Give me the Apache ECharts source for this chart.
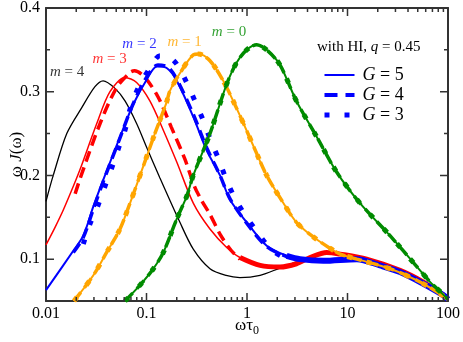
<!DOCTYPE html>
<html>
<head>
<meta charset="utf-8">
<script src="https://cdn.jsdelivr.net/npm/echarts@6/dist/echarts.min.js"></script>
<style>
  html, body { margin: 0; padding: 0; background: #fff; }
  #chart { width: 463px; height: 342px; }
</style>
</head>
<body>
<div id="chart"></div>
<script>
const serif = '"Liberation Serif", "DejaVu Serif", serif'
const frame = '#333333'

// axis ticks
const majorX = [0.01, 0.1, 1, 10, 100]
const minorX = [0.02, 0.03, 0.04, 0.05, 0.06, 0.07, 0.08, 0.09,
  0.2, 0.3, 0.4, 0.5, 0.6, 0.7, 0.8, 0.9,
  2, 3, 4, 5, 6, 7, 8, 9,
  20, 30, 40, 50, 60, 70, 80, 90]
const majorY = [0.1, 0.2, 0.3, 0.4]
const minorY = [0.15, 0.25, 0.35]

// m = 4 (G = 5 only)
const m4G5 = [[0.01, 0.169], [0.0118, 0.2], [0.0161, 0.25], [0.0227, 0.281], [0.0307, 0.306], [0.037, 0.313],
  [0.0486, 0.304], [0.0611, 0.289], [0.0797, 0.262], [0.1, 0.234], [0.136, 0.197], [0.215, 0.144], [0.292, 0.112],
  [0.428, 0.0886], [0.62, 0.0805], [0.85, 0.078], [1.35, 0.0807], [2.13, 0.0894], [3.1, 0.0965], [5, 0.1]]

// m = 3
const m3G5 = [[0.01, 0.117], [0.0123, 0.138], [0.0149, 0.159], [0.0187, 0.187], [0.0218, 0.207], [0.032, 0.262],
  [0.0433, 0.3], [0.0611, 0.317], [0.0797, 0.311], [0.108, 0.289], [0.147, 0.254], [0.2, 0.216], [0.292, 0.167],
  [0.428, 0.136], [0.628, 0.114], [0.851, 0.102], [1.35, 0.0925], [2.13, 0.0906], [3.1, 0.0945], [4.24, 0.102],
  [6.21, 0.108], [8.45, 0.106], [15.5, 0.1], [33.3, 0.0866], [56.4, 0.0729], [89.6, 0.057], [100, 0.052]]
const m3G4 = [[0.0195, 0.178], [0.0218, 0.196], [0.0345, 0.262], [0.0505, 0.305], [0.0686, 0.323], [0.076, 0.325],
  [0.095, 0.318], [0.13, 0.294], [0.176, 0.258], [0.24, 0.22], [0.3, 0.187], [0.35, 0.171], [0.43, 0.153],
  [0.55, 0.128], [0.7, 0.11], [0.85, 0.1]]

// m = 2
const m2G5 = [[0.01, 0.063], [0.0187, 0.11], [0.0235, 0.128], [0.0296, 0.163], [0.0372, 0.195], [0.0545, 0.246],
  [0.0739, 0.285], [0.101, 0.315], [0.127, 0.33], [0.16, 0.328], [0.2, 0.313], [0.292, 0.27], [0.397, 0.23],
  [0.539, 0.2], [0.678, 0.171], [0.993, 0.144], [1.57, 0.116], [2.48, 0.104], [3.37, 0.1], [5.74, 0.098],
  [12.4, 0.1], [21, 0.0925], [33.3, 0.0847], [56.4, 0.0709], [89.6, 0.057], [100, 0.052]]
const m2G4 = [[0.0187, 0.108], [0.0235, 0.126], [0.0296, 0.16], [0.0372, 0.193], [0.0545, 0.245], [0.0739, 0.286],
  [0.101, 0.318], [0.13, 0.332], [0.165, 0.329], [0.2, 0.315], [0.292, 0.273], [0.397, 0.233], [0.539, 0.2],
  [0.678, 0.172], [0.993, 0.143], [1.57, 0.115], [2.48, 0.103], [3.37, 0.1]]
const m2G3 = [[0.0235, 0.118], [0.0274, 0.142], [0.0331, 0.165], [0.0386, 0.187], [0.0451, 0.209], [0.0525, 0.232],
  [0.0611, 0.254], [0.0686, 0.279], [0.0829, 0.305], [0.108, 0.328], [0.136, 0.343], [0.165, 0.342], [0.2, 0.333],
  [0.251, 0.311], [0.303, 0.289], [0.366, 0.266], [0.428, 0.244], [0.52, 0.22], [0.6, 0.2], [0.728, 0.177],
  [0.918, 0.156], [1.2, 0.136], [1.51, 0.12], [1.9, 0.108], [2.5, 0.1]]

// m = 1 (all G overlap)
const m1 = [[0.019, 0.05], [0.0296, 0.0807], [0.0401, 0.108], [0.0545, 0.136], [0.0686, 0.167], [0.0862, 0.2],
  [0.117, 0.245], [0.136, 0.266], [0.158, 0.287], [0.171, 0.301], [0.215, 0.322], [0.292, 0.344], [0.33, 0.345],
  [0.428, 0.337], [0.58, 0.313], [0.728, 0.289], [0.955, 0.258], [1.25, 0.226], [1.57, 0.2], [2.3, 0.167],
  [3.1, 0.144], [4.4, 0.128], [6.5, 0.114], [8.45, 0.106], [12.4, 0.1], [26.5, 0.0886], [48.7, 0.0748],
  [77.6, 0.061], [100, 0.052]]

// m = 0 (all G overlap)
const m0 = [[0.0611, 0.05], [0.0862, 0.0689], [0.117, 0.0886], [0.147, 0.108], [0.2, 0.148], [0.251, 0.175],
  [0.292, 0.2], [0.428, 0.25], [0.628, 0.309], [0.79, 0.335], [0.993, 0.35], [1.25, 0.356], [1.57, 0.35],
  [2.13, 0.332], [3.1, 0.289], [4.95, 0.246], [7.8, 0.204], [13.3, 0.167], [26.5, 0.128], [48.7, 0.0914],
  [66.2, 0.0729], [77.6, 0.065], [100, 0.052]]

// curve labels
const labels = [
  { text: '4', at: [0.0162, 0.324], color: '#000000' },
  { text: '3', at: [0.0429, 0.339], color: '#ff0000' },
  { text: '2', at: [0.0852, 0.357], color: '#0000ff' },
  { text: '1', at: [0.239, 0.359], color: '#ffa500' },
  { text: '0', at: [0.662, 0.371], color: '#008b00' }
]

const dashG4 = [11, 6]
const dotG3 = [5, 15]

// plot box size in px (grid below), used to turn tick lengths into axis units
const plotW = 463 - 46 - 15
const plotH = 342 - 7 - 39

function curve (data, color, width, type) {
  return {
    type: 'line',
    data,
    symbol: 'none',
    smooth: 0.3,
    silent: true,
    lineStyle: { color, width, type, cap: 'butt' }
  }
}

function axis (type, position, extra) {
  return Object.assign({
    type, position,
    min: type === 'log' ? 0.01 : 0.05,
    max: type === 'log' ? 100 : 0.4,
    axisLine: { show: true, lineStyle: { color: frame, width: 2 } },
    axisTick: { show: false },
    axisLabel: { show: false },
    splitLine: { show: false }
  }, extra)
}

// inward ticks as broken line segments on the plot's own scales
function tickLine (vals, len, dir) {
  const pts = []
  if (dir === 'x') {
    const dy = len / plotH * (0.4 - 0.05)
    vals.forEach(v => {
      pts.push([v, 0.05], [v, 0.05 + dy], [v, '-'], [v, 0.4], [v, 0.4 - dy], [v, '-'])
    })
  } else {
    const k = Math.pow(10, len / plotW * 4)
    vals.forEach(v => {
      pts.push([0.01, v], [0.01 * k, v], [0.01, '-'], [100, v], [100 / k, v], [100, '-'])
    })
  }
  return {
    type: 'line',
    data: pts,
    symbol: 'none',
    silent: true,
    connectNulls: false,
    clip: false,
    z: 5,
    lineStyle: { color: frame, width: 1.5, cap: 'butt' }
  }
}

const xMain = axis('log', 'bottom', {
  axisLabel: {
    show: true, customValues: majorX, margin: 5, color: '#000', fontSize: 16, fontFamily: serif,
    formatter: v => String(+v)
  },
  name: '{a|ωτ}{s|0}',
  nameLocation: 'middle',
  nameGap: 14,
  nameMoveOverlap: false,
  nameTextStyle: {
    rich: {
      a: { fontSize: 17, fontFamily: serif, color: '#000' },
      s: { fontSize: 12, fontFamily: serif, color: '#000', padding: [10, 0, 0, 0] }
    }
  }
})

const yMain = axis('value', 'left', {
  axisLabel: {
    show: true, customValues: majorY, margin: 6, color: '#000', fontSize: 16, fontFamily: serif,
    formatter: v => (+v).toFixed(1)
  },
  name: '{a|ω }{i|J}{a|(ω)}',
  nameLocation: 'middle',
  nameGap: 21,
  nameMoveOverlap: false,
  nameTextStyle: {
    rich: {
      a: { fontSize: 17, fontFamily: serif, color: '#000' },
      i: { fontSize: 17, fontFamily: serif, fontStyle: 'italic', color: '#000' }
    }
  }
})

const series = [
  curve(m4G5, '#000000', 1.3, 'solid'),
  curve(m3G5, '#ff0000', 1.5, 'solid'),
  curve(m3G4, '#ff0000', 3.5, dashG4),
  curve(m3G5.filter(p => p[0] >= 0.75), '#ff0000', 5, 'solid'),
  curve(m2G5, '#0000ff', 2, 'solid'),
  curve(m2G4, '#0000ff', 3.5, dashG4),
  curve(m2G3, '#0000ff', 5, dotG3),
  curve(m2G5.filter(p => p[0] >= 2.4), '#0000ff', 6, 'solid'),
  curve(m1, '#ffa500', 2, 'solid'),
  curve(m1, '#ffa500', 3.5, dashG4),
  curve(m1, '#ffa500', 5, dotG3),
  curve(m0, '#008b00', 2, 'solid'),
  curve(m0, '#008b00', 3.5, dashG4),
  curve(m0, '#008b00', 5, dotG3),
  tickLine(majorX, 8, 'x'),
  tickLine(minorX, 4, 'x'),
  tickLine(majorY, 8, 'y'),
  tickLine(minorY, 4, 'y')
]

labels.forEach(l => {
  series.push({
    type: 'scatter',
    symbolSize: 0,
    silent: true,
    data: [l.at],
    label: {
      show: true, position: 'inside',
      formatter: '{i|m}{n| = ' + l.text + '}',
      rich: {
        i: { fontSize: 15, fontFamily: serif, fontStyle: 'italic', color: l.color },
        n: { fontSize: 15, fontFamily: serif, color: l.color }
      }
    }
  })
})

// legend entries
const legendNames = ['G = 5', 'G = 4', 'G = 3']
const legendStyles = [
  { width: 2, type: 'solid' },
  { width: 4, type: [13, 8] },
  { width: 5, type: [5, 15] }
]
legendNames.forEach(name => {
  series.push({ type: 'line', name, data: [], symbol: 'none', lineStyle: { color: '#0000ff' }, itemStyle: { color: '#0000ff' } })
})

const option = {
  animation: false,
  backgroundColor: '#fff',
  grid: { left: 46, right: 15, top: 7, bottom: 39 },
  title: {
    left: 317, top: 40, padding: 0,
    text: '{n|with HI, }{i|q}{n| = 0.45}',
    textStyle: {
      rich: {
        n: { fontSize: 15, fontFamily: serif, fontWeight: 'normal', color: '#000' },
        i: { fontSize: 15, fontFamily: serif, fontWeight: 'normal', fontStyle: 'italic', color: '#000' }
      }
    }
  },
  legend: {
    left: 322, top: 66, padding: 0,
    orient: 'vertical',
    itemWidth: 30, itemHeight: 14, itemGap: 2,
    selectedMode: false,
    data: legendNames.map((name, i) => ({
      name,
      itemStyle: { opacity: 0 },
      lineStyle: { color: '#0000ff', width: legendStyles[i].width, type: legendStyles[i].type, cap: 'butt' }
    })),
    formatter: name => '{i|G}{n|' + name.slice(1) + '}',
    textStyle: {
      padding: [0, 0, 0, 3],
      rich: {
        i: { fontSize: 18, fontFamily: serif, fontStyle: 'italic', color: '#000' },
        n: { fontSize: 18, fontFamily: serif, color: '#000' }
      }
    }
  },
  xAxis: [xMain, axis('log', 'top')],
  yAxis: [yMain, axis('value', 'right')],
  series
}

const chart = echarts.init(document.getElementById('chart'), null, { renderer: 'canvas' })
chart.setOption(option)
</script>
</body>
</html>
